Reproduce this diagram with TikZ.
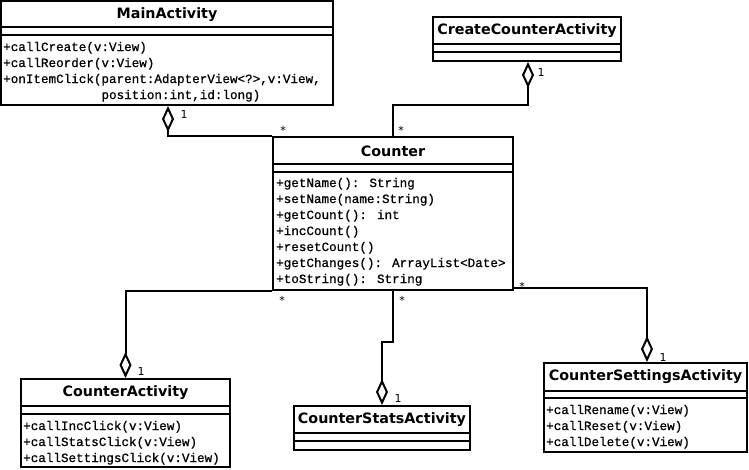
\documentclass[tikz,border=0pt]{standalone}
\usepackage{fontspec}
\setmainfont{DejaVu Sans}
\newfontfamily\opsfont[FakeBold=0.8]{Liberation Mono}
\usetikzlibrary{arrows.meta,calc}

\begin{document}
\begin{tikzpicture}[x=1pt,y=-1pt,
  cls/.style={draw, line width=2pt, rectangle, inner sep=0pt, fill=white},
  sepline/.style={line width=2pt},
  title/.style={font=\fontsize{14.3}{16}\selectfont\bfseries, inner sep=0pt},
  ops/.style={font=\opsfont\fontsize{12.6}{16}\selectfont, align=left, inner sep=0pt, anchor=base west},
  agg/.style={line width=2pt, {Diamond[open, length=26pt, width=12pt]}-},
  mult/.style={font=\fontsize{11}{12}\selectfont, inner sep=0pt},
]
\useasboundingbox (0,0) rectangle (749,469);

% class boxes
\node[cls, minimum width=332pt, minimum height=104pt] (main) at (167,53) {};
\node[cls, minimum width=188pt, minimum height=44pt] (create) at (527,39) {};
\node[cls, minimum width=240pt, minimum height=153pt] (counter) at (393,213.5) {};
\node[cls, minimum width=209pt, minimum height=88pt] (ca) at (125.5,423) {};
\node[cls, minimum width=176pt, minimum height=44pt] (stats) at (382,428) {};
\node[cls, minimum width=203pt, minimum height=89pt] (set) at (645.5,407.5) {};

% compartment separators
\foreach \c/\a/\b in {main/27/35, create/28/36, counter/28/36, ca/28/36, stats/28/36, set/29/36}{
  \draw[sepline] ([yshift=-\a pt]\c.north west) -- ([yshift=-\a pt]\c.north east);
  \draw[sepline] ([yshift=-\b pt]\c.north west) -- ([yshift=-\b pt]\c.north east);
}

% class names
\node[title] (mainT) at ([yshift=-15pt]main.north) {MainActivity};
\node[title] (createT) at ([yshift=-15pt]create.north) {CreateCounterActivity};
\node[title] (counterT) at ([yshift=-15pt]counter.north) {Counter};
\node[title] (caT) at ([yshift=-15pt]ca.north) {CounterActivity};
\node[title] (statsT) at ([yshift=-15pt]stats.north) {CounterStatsActivity};
\node[title] (setT) at ([yshift=-15pt]set.north) {CounterSettingsActivity};

% operations (anchored at the baseline of the last line)
\node[ops] (mainO) at ([xshift=3pt, yshift=-99pt]main.north west)
  {+callCreate(v:View)\\+callReorder(v:View)\\+onItemClick(parent:AdapterView<?>,v:View,\\\phantom{+onItemClick(}position:int,id:long)};
\node[ops] (counterO) at ([xshift=4pt, yshift=-147pt]counter.north west)
  {+getName(): String\\+setName(name:String)\\+getCount(): int\\+incCount()\\+resetCount()\\+getChanges(): ArrayList<Date>\\+toString(): String};
\node[ops] (caO) at ([xshift=3pt, yshift=-84pt]ca.north west)
  {+callIncClick(v:View)\\+callStatsClick(v:View)\\+callSettingsClick(v:View)};
\node[ops] (setO) at ([xshift=3pt, yshift=-84pt]set.north west)
  {+callRename(v:View)\\+callReset(v:View)\\+callDelete(v:View)};

% aggregations
\draw[agg] ([xshift=1pt]main.south) |- (counter.north west);
\draw[agg] ([xshift=1pt]create.south) |- ($(counter.north)+(0,-31)$) -- (counter.north);
\draw[agg] (ca.north) |- (counter.south west);
\draw[agg] (stats.north) |- ($(counter.south)+(0,51)$) -- (counter.south);
\draw[agg] ([xshift=1.5pt]set.north) |- ($(counter.south east)+(0,-3)$);

% multiplicities
\node[mult] (m1) at (184,114) {1};
\node[mult] (m2) at (283,130) {*};
\node[mult] (m3) at (541,72) {1};
\node[mult] (m4) at (401,130) {*};
\node[mult] (m5) at (141,371) {1};
\node[mult] (m6) at (282,300) {*};
\node[mult] (m7) at (398,398) {1};
\node[mult] (m8) at (402,300) {*};
\node[mult] (m9) at (663,357) {1};
\node[mult] (m10) at (522,286) {*};
\end{tikzpicture}
\end{document}
